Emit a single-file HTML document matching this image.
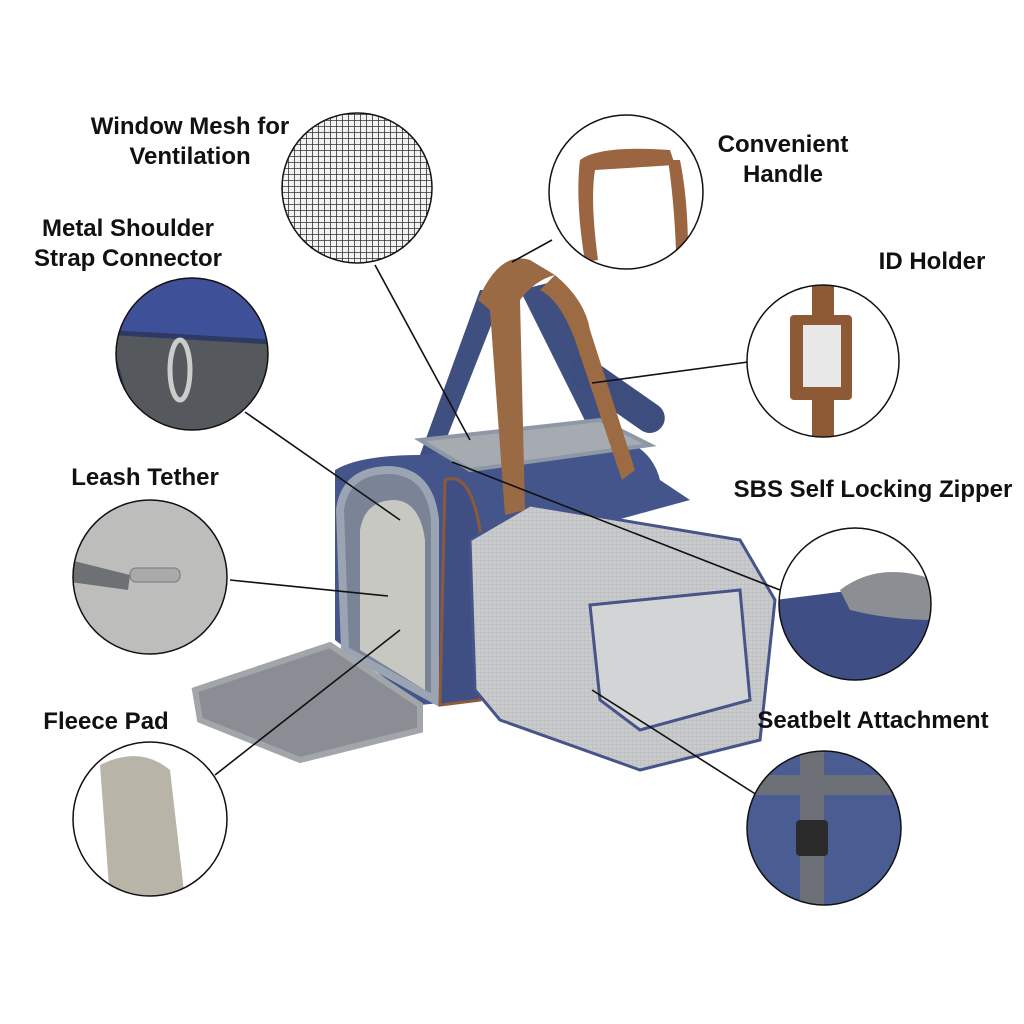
<!DOCTYPE html>
<html><head><meta charset="utf-8"><style>
html,body{margin:0;padding:0;background:#fff;}
body{width:1024px;height:1024px;position:relative;overflow:hidden;font-family:"Liberation Sans",sans-serif;}
.l{position:absolute;font-weight:bold;font-size:24px;color:#111;text-align:center;line-height:30px;white-space:nowrap;transform:translateX(-50%);}
</style></head><body>
<svg width="1024" height="1024" style="position:absolute;left:0;top:0">
<defs>
<pattern id="mesh" width="6" height="6" patternUnits="userSpaceOnUse"><rect width="6" height="6" fill="#f2f2f2"/><path d="M0 0H6M0 0V6" stroke="#333" stroke-width="1.6"/></pattern>
<pattern id="gm" width="4" height="4" patternUnits="userSpaceOnUse"><rect width="4" height="4" fill="#c9cbcd"/><path d="M0 0H4M0 0V4" stroke="#b2b5b8" stroke-width="0.8"/></pattern>
<clipPath id="cH"><circle cx="626" cy="192" r="77"/></clipPath>
<clipPath id="cI"><circle cx="823" cy="361" r="76"/></clipPath>
<clipPath id="cM"><circle cx="192" cy="354" r="76"/></clipPath>
<clipPath id="cL"><circle cx="150" cy="577" r="77"/></clipPath>
<clipPath id="cS"><circle cx="855" cy="604" r="76"/></clipPath>
<clipPath id="cF"><circle cx="150" cy="819" r="77"/></clipPath>
<clipPath id="cB"><circle cx="824" cy="828" r="77"/></clipPath>
</defs>
<!-- bag -->
<path d="M420 455 L480 290 L505 290 L440 455Z" fill="#3e4f80"/>
<path d="M520 290 L560 280 L630 470 L612 475Z" fill="#3e4f80"/>
<rect x="562" y="380" width="110" height="30" rx="15" transform="rotate(35 617 395)" fill="#3d4d7e"/>
<path d="M335 470 Q360 455 420 455 L600 435 Q650 440 660 480 L690 500 L470 560 L470 700 L420 705 L335 640Z" fill="#43558a"/>
<path d="M420 440 L600 420 L650 445 L470 470Z" fill="#a6abb2" stroke="#8d97a6" stroke-width="4"/>
<path d="M340 510 Q345 470 390 470 Q430 472 435 520 L435 700 L345 650Z" fill="#7b8396" stroke="#9aa4b2" stroke-width="8"/>
<path d="M360 530 Q365 500 395 500 Q420 502 425 540 L425 690 L360 650Z" fill="#c8c8c2"/>
<path d="M445 480 Q470 470 480 530 L480 700 L440 705Z" fill="#3f4f83" stroke="#8b5a3a" stroke-width="3"/>
<path d="M470 540 L530 505 L740 540 L775 600 L760 740 L640 770 L500 720 L475 690Z" fill="url(#gm)" stroke="#46548a" stroke-width="3"/>
<path d="M590 605 L740 590 L750 700 L640 730 L600 700Z" fill="#d2d4d6" stroke="#46548a" stroke-width="3"/>
<path d="M195 690 L330 645 L420 705 L420 730 L300 760 L200 720Z" fill="#8a8e94" stroke="#a2a6aa" stroke-width="6"/>
<path d="M478 300 Q500 250 530 260 L555 275 Q535 280 520 300 L525 510 L505 515 L490 310Z" fill="#9a6a45"/>
<path d="M555 275 Q585 300 590 330 L635 470 L622 480 L575 340 Q560 300 540 290Z" fill="#9c6b44"/>
<!-- connector lines -->
<g stroke="#111" stroke-width="1.6" fill="none">
<line x1="375" y1="265" x2="470" y2="440"/>
<line x1="552" y1="240" x2="512" y2="262"/>
<line x1="748" y1="362" x2="592" y2="383"/>
<line x1="245" y1="412" x2="400" y2="520"/>
<line x1="230" y1="580" x2="388" y2="596"/>
<line x1="215" y1="775" x2="400" y2="630"/>
<line x1="757" y1="795" x2="592" y2="690"/>
<line x1="780" y1="590" x2="452" y2="462"/>
</g>
<!-- circles -->
<circle cx="357" cy="188" r="75" fill="url(#mesh)" stroke="#111" stroke-width="1.5"/>
<circle cx="626" cy="192" r="77" fill="#fff"/>
<g clip-path="url(#cH)">
<path d="M580 160 Q600 145 670 150 L675 165 L595 170 Q590 200 598 260 L585 262 Q575 200 580 160Z" fill="#9a6540"/>
<path d="M668 160 L680 160 Q688 200 688 250 L676 250 Q674 200 668 160Z" fill="#9a6540"/>
</g>
<circle cx="626" cy="192" r="77" fill="none" stroke="#111" stroke-width="1.5"/>
<circle cx="823" cy="361" r="76" fill="#fff"/>
<g clip-path="url(#cI)">
<rect x="812" y="285" width="22" height="160" fill="#8e5a36"/>
<rect x="790" y="315" width="62" height="85" rx="4" fill="#8e5a36"/>
<rect x="803" y="325" width="38" height="62" fill="#e8e8e8"/>
</g>
<circle cx="823" cy="361" r="76" fill="none" stroke="#111" stroke-width="1.5"/>
<g clip-path="url(#cM)">
<rect x="110" y="270" width="170" height="170" fill="#2e3a64"/>
<path d="M110 270 L280 270 L280 340 L110 330Z" fill="#3e5198"/>
<path d="M110 335 L280 345 L280 440 L140 440Z" fill="#55595d"/>
<ellipse cx="180" cy="370" rx="10" ry="30" fill="none" stroke="#ccc" stroke-width="5"/>
</g>
<circle cx="192" cy="354" r="76" fill="none" stroke="#111" stroke-width="1.5"/>
<circle cx="150" cy="577" r="77" fill="#bdbdbb"/>
<g clip-path="url(#cL)">
<path d="M70 560 L130 575 L128 590 L70 582Z" fill="#6e7174"/>
<rect x="130" y="568" width="50" height="14" rx="6" fill="#aaa" stroke="#777"/>
</g>
<circle cx="150" cy="577" r="77" fill="none" stroke="#111" stroke-width="1.5"/>
<circle cx="855" cy="604" r="76" fill="#fff"/>
<g clip-path="url(#cS)">
<path d="M775 600 L935 580 L935 650 L880 690 L780 670Z" fill="#3f4f85"/>
<path d="M840 590 Q880 560 935 580 L935 620 Q890 620 850 610Z" fill="#8b8f94"/>
</g>
<circle cx="855" cy="604" r="76" fill="none" stroke="#111" stroke-width="1.5"/>
<circle cx="150" cy="819" r="77" fill="#fff"/>
<g clip-path="url(#cF)">
<path d="M100 765 Q140 745 170 770 L185 900 L110 900Z" fill="#b8b4a8"/>
</g>
<circle cx="150" cy="819" r="77" fill="none" stroke="#111" stroke-width="1.5"/>
<circle cx="824" cy="828" r="77" fill="#4a5d93"/>
<g clip-path="url(#cB)">
<rect x="745" y="775" width="160" height="20" fill="#6c7178"/>
<rect x="800" y="750" width="24" height="160" fill="#6d7177"/>
<rect x="796" y="820" width="32" height="36" rx="4" fill="#2a2a2a"/>
</g>
<circle cx="824" cy="828" r="77" fill="none" stroke="#111" stroke-width="1.5"/>
</svg>
<div class="l" style="left:190px;top:112px">Window Mesh for<br>Ventilation</div>
<div class="l" style="left:783px;top:130px">Convenient<br>Handle</div>
<div class="l" style="left:128px;top:214px">Metal Shoulder<br>Strap Connector</div>
<div class="l" style="left:932px;top:247px">ID Holder</div>
<div class="l" style="left:145px;top:463px">Leash Tether</div>
<div class="l" style="left:873px;top:475px">SBS Self Locking Zipper</div>
<div class="l" style="left:106px;top:707px">Fleece Pad</div>
<div class="l" style="left:873px;top:706px">Seatbelt Attachment</div>
</body></html>
